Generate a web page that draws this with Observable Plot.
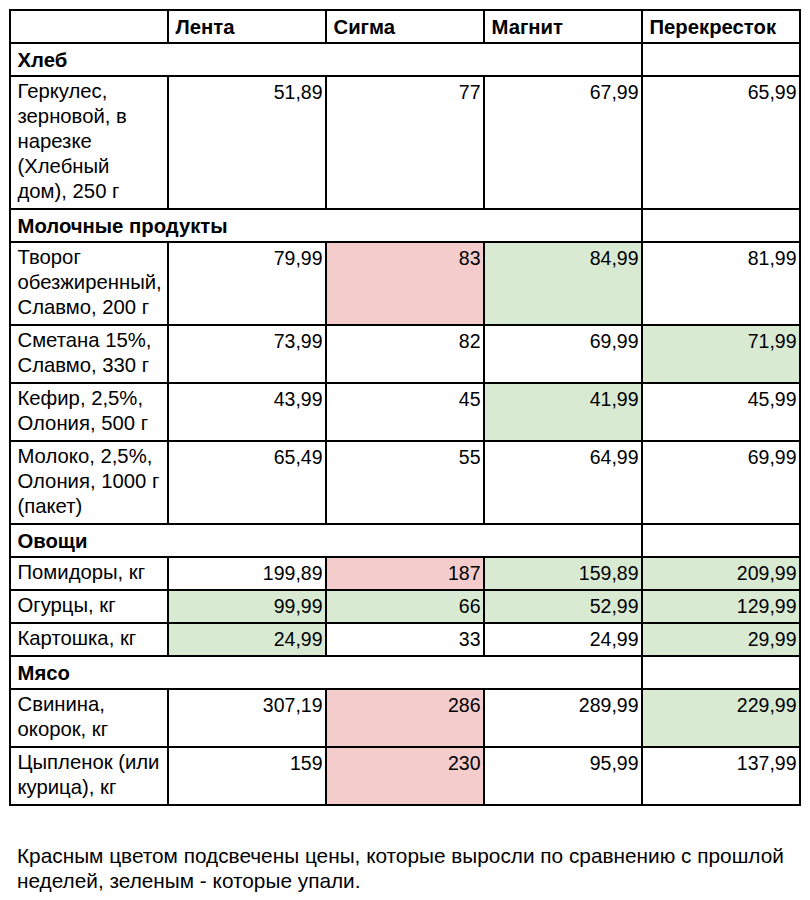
<!DOCTYPE html>
<html><head><meta charset="utf-8">
<script src="https://cdn.jsdelivr.net/npm/d3@7"></script>
<script src="https://cdn.jsdelivr.net/npm/@observablehq/plot@0.6"></script>
<style>
body{margin:0;background:#fff;font-family:"Liberation Sans",Arial,sans-serif;}
#chart svg{display:block}
#caption{margin:28px 0 0 17px;font-size:20.8px;line-height:25px;color:#000;width:790px}
</style></head><body>
<div id="chart"></div>
<div id="caption">Красным цветом подсвечены цены, которые выросли по сравнению с прошлой неделей, зеленым - которые упали.</div>
<script>
const stores = ["Лента", "Сигма", "Магнит", "Перекресток"];
const categories = ["Хлеб", "Молочные продукты", "Овощи", "Мясо"];
const items = [
  "Геркулес,\nзерновой, в\nнарезке\n(Хлебный\nдом), 250 г",
  "Творог\nобезжиренный,\nСлавмо, 200 г",
  "Сметана 15%,\nСлавмо, 330 г",
  "Кефир, 2,5%,\nОлония, 500 г",
  "Молоко, 2,5%,\nОлония, 1000 г\n(пакет)",
  "Помидоры, кг",
  "Огурцы, кг",
  "Картошка, кг",
  "Свинина,\nокорок, кг",
  "Цыпленок (или\nкурица), кг"
];
const itemCategory = ["Хлеб", "Молочные продукты", "Молочные продукты", "Молочные продукты", "Молочные продукты", "Овощи", "Овощи", "Овощи", "Мясо", "Мясо"];
const lenta = [51.89, 79.99, 73.99, 43.99, 65.49, 199.89, 99.99, 24.99, 307.19, 159];
const sigma = [77, 83, 82, 45, 55, 187, 66, 33, 286, 230];
const magnit = [67.99, 84.99, 69.99, 41.99, 64.99, 159.89, 52.99, 24.99, 289.99, 95.99];
const perekrestok = [65.99, 81.99, 71.99, 45.99, 69.99, 209.99, 129.99, 29.99, 229.99, 137.99];
// change vs previous week: "up" = rose (red), "down" = fell (green), "" = unmarked
const lentaChange = ["", "", "", "", "", "", "down", "down", "", ""];
const sigmaChange = ["", "up", "", "", "", "up", "down", "", "up", "up"];
const magnitChange = ["", "down", "", "down", "", "down", "down", "", "", ""];
const perekrestokChange = ["", "", "down", "", "", "down", "down", "down", "down", ""];

const prices = [lenta, sigma, magnit, perekrestok];
const changes = [lentaChange, sigmaChange, magnitChange, perekrestokChange];
const fmt = v => String(v).replace(".", ",");

// build rows: header, then category rows followed by their items
const rows = [{kind: "header", lines: 1}];
for (const cat of categories) {
  rows.push({kind: "category", label: cat, lines: 1});
  items.forEach((it, i) => {
    if (itemCategory[i] === cat) rows.push({kind: "item", label: it, index: i, lines: it.split("\n").length});
  });
}
// row extent in "line units": each row = lines + padding unit
const PAD = 8 / 25;
let acc = 0;
for (const r of rows) { r.y1 = acc; acc += r.lines + PAD; r.y2 = acc; }
const total = acc;

const cells = [], boldTexts = [], plainTexts = [], numTexts = [];
for (const r of rows) {
  if (r.kind === "header") {
    cells.push({x1: 0, x2: 1, y1: r.y1, y2: r.y2, change: ""});
    stores.forEach((s, j) => {
      cells.push({x1: j + 1, x2: j + 2, y1: r.y1, y2: r.y2, change: ""});
      boldTexts.push({x: j + 1, y: r.y1, text: s});
    });
  } else if (r.kind === "category") {
    cells.push({x1: 0, x2: 4, y1: r.y1, y2: r.y2, change: ""});
    cells.push({x1: 4, x2: 5, y1: r.y1, y2: r.y2, change: ""});
    boldTexts.push({x: 0, y: r.y1, text: r.label});
  } else {
    cells.push({x1: 0, x2: 1, y1: r.y1, y2: r.y2, change: ""});
    plainTexts.push({x: 0, y: r.y1, text: r.label});
    prices.forEach((p, j) => {
      cells.push({x1: j + 1, x2: j + 2, y1: r.y1, y2: r.y2, change: changes[j][r.index]});
      numTexts.push({x: j + 2, y: r.y1, text: fmt(p[r.index])});
    });
  }
}

const LFS = 20.3, NFS = 19.5;
const common = {x: "x", y: "y", text: "text", lineAnchor: "top", fill: "#000"};
const chart = Plot.plot({
  width: 810,
  height: 815,
  marginTop: 10,
  marginBottom: 10,
  marginLeft: 10,
  marginRight: 10,
  style: {fontFamily: '"Liberation Sans", Arial, sans-serif', background: "#fff"},
  x: {domain: [0, 5], axis: null},
  y: {domain: [0, total], reverse: true, axis: null},
  color: {type: "ordinal", domain: ["up", "down", ""], range: ["#f4cccc", "#d9ead3", "#ffffff"]},
  marks: [
    Plot.rect(cells, {x1: "x1", x2: "x2", y1: "y1", y2: "y2", fill: "change", stroke: "#000", strokeWidth: 2}),
    Plot.text(boldTexts, {...common, textAnchor: "start", dx: 7, dy: 6, fontSize: LFS, lineHeight: 25 / LFS, fontWeight: "bold"}),
    Plot.text(plainTexts, {...common, textAnchor: "start", dx: 7, dy: 4, fontSize: LFS, lineHeight: 25 / LFS}),
    Plot.text(numTexts, {...common, textAnchor: "end", dx: -4, dy: 5, fontSize: NFS, lineHeight: 25 / NFS})
  ]
});
document.getElementById("chart").appendChild(chart);
</script>
</body></html>
